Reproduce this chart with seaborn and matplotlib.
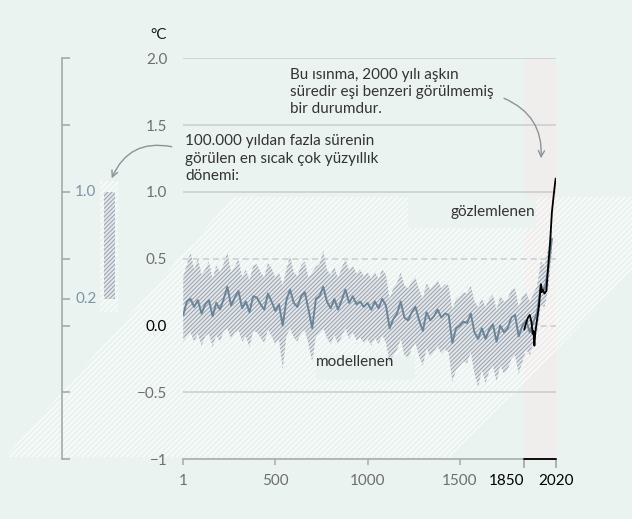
import numpy as np
import pandas as pd
import seaborn as sns
import matplotlib.pyplot as plt
from matplotlib.patches import Polygon, Rectangle

# --- veriler ---
years = [1, 20, 40, 60, 80, 100, 120, 140, 160, 180,
         200, 220, 240, 260, 280, 300, 320, 340, 360, 380,
         400, 420, 440, 460, 480, 500, 520, 540, 560, 580,
         600, 620, 640, 660, 680, 700, 720, 740, 760, 780,
         800, 820, 840, 860, 880, 900, 920, 940, 960, 980,
         1000, 1020, 1040, 1060, 1080, 1100, 1120, 1140, 1160, 1180,
         1200, 1220, 1240, 1260, 1280, 1300, 1320, 1340, 1360, 1380,
         1400, 1420, 1440, 1460, 1480, 1500, 1520, 1540, 1560, 1580,
         1600, 1620, 1640, 1660, 1680, 1700, 1720, 1740, 1760, 1780,
         1800, 1820, 1840, 1860, 1880, 1900, 1920, 1940, 1960, 1980,
         2000]
median = [0.08, 0.18, 0.20, 0.14, 0.19, 0.09, 0.16, 0.19, 0.07, 0.17,
          0.12, 0.20, 0.29, 0.15, 0.21, 0.26, 0.13, 0.18, 0.10, 0.22,
          0.21, 0.16, 0.12, 0.24, 0.18, 0.11, 0.16, 0.00, 0.19, 0.27,
          0.17, 0.14, 0.22, 0.25, 0.12, -0.02, 0.20, 0.22, 0.29, 0.18,
          0.13, 0.20, 0.12, 0.19, 0.27, 0.17, 0.22, 0.16, 0.18, 0.14,
          0.17, 0.12, 0.18, 0.13, 0.20, 0.15, -0.02, 0.05, 0.09, 0.18,
          0.06, 0.04, 0.10, 0.14, 0.04, -0.04, 0.10, 0.04, 0.07, 0.12,
          0.06, 0.09, 0.08, -0.13, -0.02, 0.00, 0.03, 0.02, 0.09, -0.05,
          -0.10, -0.02, -0.10, -0.03, 0.01, -0.12, 0.00, -0.05, -0.02, 0.06,
          0.08, -0.08, 0.00, 0.04, -0.05, 0.03, 0.10, 0.30, 0.27, 0.42,
          0.65]
upper = [0.37, 0.45, 0.55, 0.42, 0.50, 0.38, 0.42, 0.48, 0.35, 0.45,
         0.40, 0.46, 0.55, 0.40, 0.44, 0.50, 0.36, 0.42, 0.34, 0.45,
         0.46, 0.40, 0.36, 0.47, 0.43, 0.36, 0.40, 0.30, 0.42, 0.52,
         0.40, 0.37, 0.45, 0.48, 0.36, 0.40, 0.44, 0.46, 0.56, 0.42,
         0.38, 0.44, 0.36, 0.43, 0.50, 0.41, 0.45, 0.39, 0.42, 0.37,
         0.40, 0.35, 0.40, 0.35, 0.42, 0.38, 0.20, 0.28, 0.32, 0.40,
         0.30, 0.28, 0.33, 0.36, 0.27, 0.20, 0.32, 0.27, 0.30, 0.34,
         0.28, 0.31, 0.30, 0.12, 0.20, 0.22, 0.25, 0.24, 0.30, 0.18,
         0.14, 0.20, 0.14, 0.20, 0.23, 0.12, 0.22, 0.18, 0.20, 0.27,
         0.28, 0.14, 0.22, 0.25, 0.18, 0.24, 0.30, 0.48, 0.45, 0.58,
         0.75]
lower = [-0.12, -0.08, -0.05, -0.12, -0.06, -0.15, -0.08, -0.06, -0.16, -0.07,
         -0.12, -0.04, -0.02, -0.10, -0.05, -0.03, -0.12, -0.08, -0.16, -0.04,
         -0.05, -0.09, -0.13, -0.03, -0.08, -0.14, -0.10, -0.33, -0.08, -0.02,
         -0.09, -0.12, -0.05, -0.03, -0.14, -0.27, -0.08, -0.06, -0.02, -0.09,
         -0.14, -0.07, -0.14, -0.08, -0.02, -0.10, -0.05, -0.11, -0.09, -0.13,
         -0.10, -0.15, -0.09, -0.14, -0.07, -0.13, -0.28, -0.22, -0.18, -0.10,
         -0.22, -0.24, -0.17, -0.13, -0.23, -0.30, -0.17, -0.23, -0.20, -0.15,
         -0.21, -0.18, -0.20, -0.42, -0.33, -0.30, -0.27, -0.28, -0.20, -0.36,
         -0.46, -0.33, -0.43, -0.34, -0.30, -0.42, -0.30, -0.36, -0.33, -0.25,
         -0.22, -0.36, -0.27, -0.18, -0.22, -0.12, -0.05, 0.15, 0.14, 0.28,
         0.55]

obs_years = [1850, 1860, 1870, 1880, 1885, 1890, 1895, 1900, 1905, 1910, 1920,
             1930, 1940, 1945, 1950, 1960, 1970, 1980, 1990, 2000, 2010, 2020]
obs_vals = [-0.03, 0.02, 0.06, 0.08, 0.05, 0.02, -0.06, -0.04, -0.15, -0.05, 0.05,
            0.15, 0.31, 0.25, 0.27, 0.24, 0.26, 0.45, 0.62, 0.85, 0.98, 1.10]

warm_range = [0.2, 1.0]

y_ticks = [2.0, 1.5, 1.0, 0.5, 0.0, -0.5, -1.0]
y_labels = ['2.0', '1.5', '1.0', '0.5', '0.0', '\u22120.5', '\u22121']
x_ticks = [1, 500, 1000, 1500, 1850, 2020]
x_labels = ['1', '500', '1000', '1500', '1850', '2020']
left_ticks = [2.0, 1.5, 1.0, 0.5, 0.2, 0.0, -0.5, -1.0]

# --- görünüm ---
W, H = 632, 519
BG = '#ebf3f0'
GRAY_TXT = '#6e6e6e'
GRID = '#c9cdcd'
BAND_FACE = '#e4e8eb'
BAND_HATCH = '#99a2ae'
LINE_BLUE = '#6a8599'
ARROW = '#8c9399'
FS = 11


def fx(x):
    return x / W


def fy(y):
    return 1 - y / H


sns.set_theme(style='white')
plt.rcParams['font.family'] = ['Lato', 'DejaVu Sans']
plt.rcParams['hatch.linewidth'] = 0.75

fig = plt.figure(figsize=(W / 100, H / 100), dpi=100, facecolor=BG)

ax = fig.add_axes([fx(183.3), fy(459.3), (555.6 - 183.3) / W, (459.3 - 58.3) / H])
ax.set_facecolor('none')

# 1850-2020 gölgeli bölge
ax.axvspan(1850, 2020, color='#f0eeed', lw=0, zorder=0)

# arka plandaki beyaz çizgili paralelkenar
pts = [(fx(5), fy(457)), (fx(452), fy(457)), (fx(705), fy(197)), (fx(233), fy(197))]
ax.add_patch(Polygon(pts, closed=True, transform=fig.transFigure, facecolor='none',
                     edgecolor='white', hatch='//////', lw=0, clip_on=False, zorder=0.5))

# yazı kutuları
ax.add_patch(Rectangle((fx(408), fy(228)), (536 - 408) / W, (228 - 197) / H,
                       transform=fig.transFigure, facecolor=BG, lw=0,
                       clip_on=False, zorder=1))
ax.add_patch(Rectangle((fx(316), fy(380)), (415 - 316) / W, (380 - 355) / H,
                       transform=fig.transFigure, facecolor=BG, lw=0,
                       clip_on=False, zorder=1))

# yatay çizgiler
for v in [2.0, 1.5, 1.0, -0.5]:
    ax.axhline(v, color=GRID, lw=1.1, zorder=0.8)
for v in [0.5, 0.0]:
    ax.axhline(v, color=GRID, lw=1.1, ls=(0, (4, 2.5)), zorder=0.8)

# modellenen aralık ve medyan
ax.fill_between(years, lower, upper, facecolor=BAND_FACE, edgecolor=BAND_HATCH,
                hatch='////////', linewidth=0, zorder=2)
df_mod = pd.DataFrame({'year': years, 'temp': median})
sns.lineplot(data=df_mod, x='year', y='temp', ax=ax, color=LINE_BLUE, lw=1.4, zorder=3)

# gözlemlenen
df_obs = pd.DataFrame({'year': obs_years, 'temp': obs_vals})
sns.lineplot(data=df_obs, x='year', y='temp', ax=ax, color='black', lw=1.3, zorder=4)

# eksenler
ax.set_xlim(1, 2020)
ax.set_ylim(-1, 2)
ax.set_xlabel('')
ax.set_ylabel('')
for s in ['top', 'right', 'left']:
    ax.spines[s].set_visible(False)
ax.spines['bottom'].set_color('#a7abae')
ax.spines['bottom'].set_linewidth(1.2)

ax.set_yticks(y_ticks)
ax.set_yticklabels(y_labels)
ax.tick_params(axis='y', length=0, pad=11.5, labelsize=FS, labelcolor=GRAY_TXT)
for lab in ax.get_yticklabels():
    if lab.get_text() == '0.0':
        lab.set_color('black')

ax.set_xticks(x_ticks)
ax.set_xticklabels(x_labels)
ax.tick_params(axis='x', direction='out', length=4.3, width=1.1, color='#a7abae',
               pad=6, labelsize=FS, labelcolor=GRAY_TXT, bottom=True)
for tick, lab in zip(ax.xaxis.get_major_ticks(), x_labels):
    if lab in ('1850', '2020'):
        tick.tick1line.set_color('black')
        tick.tick1line.set_markersize(6.5)
        tick.tick1line.set_markeredgewidth(1.3)
        tick.label1.set_color('black')
    if lab == '1850':
        tick.label1.set_horizontalalignment('right')
ax.plot([1850, 2020], [-1, -1], color='black', lw=1.3, clip_on=False, zorder=5)

# sol küçük eksen
axl = fig.add_axes([fx(62.3), fy(459.3), (130 - 62.3) / W, (459.3 - 58.3) / H])
axl.set_facecolor('none')
axl.set_xlim(0, 1)
axl.set_ylim(-1, 2)
for s in ['top', 'right', 'bottom']:
    axl.spines[s].set_visible(False)
axl.spines['left'].set_color('#9ea4a8')
axl.spines['left'].set_linewidth(1.1)
axl.set_xticks([])
axl.set_yticks(left_ticks)
axl.set_yticklabels([])
axl.tick_params(axis='y', direction='in', length=5.5, width=1.1, color='#9ea4a8', left=True)
for t, v in zip(axl.yaxis.get_major_ticks(), left_ticks):
    if v in warm_range:
        t.tick1line.set_color('#7d93a6')
for v in warm_range:
    axl.text(0.19, v, f'{v:.1f}', ha='left', va='center', color='#7d93a6', fontsize=FS)
axl.add_patch(Rectangle((0.55, 0.1), 0.27, 0.98, facecolor='none', edgecolor='white',
                        hatch='//////', lw=0, zorder=1))
axl.bar(0.697, warm_range[1] - warm_range[0], bottom=warm_range[0], width=0.162,
        facecolor=BAND_FACE, edgecolor=BAND_HATCH, hatch='////////', lw=0, zorder=2)

# metinler
fig.text(fx(150), fy(35), '\u00b0C', ha='left', va='center', fontsize=FS, color='#1a1a1a')
fig.text(fx(185), fy(134.5), '100.000 yıldan fazla sürenin\ngörülen en sıcak çok yüzyıllık\ndönemi:',
         ha='left', va='top', fontsize=FS, color='#333333', linespacing=1.3)
fig.text(fx(290), fy(67.5), 'Bu ısınma, 2000 yılı aşkın\nsüredir eşi benzeri görülmemiş\nbir durumdur.',
         ha='left', va='top', fontsize=FS, color='#333333', linespacing=1.3)
fig.text(fx(535), fy(212), 'gözlemlenen', ha='right', va='center', fontsize=FS, color='#333333')
fig.text(fx(316), fy(362), 'modellenen', ha='left', va='center', fontsize=FS, color='#333333')

# oklar
ax.annotate('', xy=(fx(111.7), fy(178.3)), xytext=(fx(171.7), fy(146.7)),
            xycoords='figure fraction', textcoords='figure fraction',
            arrowprops=dict(arrowstyle='->', color=ARROW, lw=1, mutation_scale=11,
                            shrinkA=0, shrinkB=0, connectionstyle='arc3,rad=0.4'))
ax.annotate('', xy=(fx(541), fy(158.3)), xytext=(fx(504), fy(98.3)),
            xycoords='figure fraction', textcoords='figure fraction',
            arrowprops=dict(arrowstyle='->', color=ARROW, lw=1, mutation_scale=11,
                            shrinkA=0, shrinkB=0, connectionstyle='arc3,rad=-0.35'))

fig.savefig('out.png', dpi=100, facecolor=BG)
